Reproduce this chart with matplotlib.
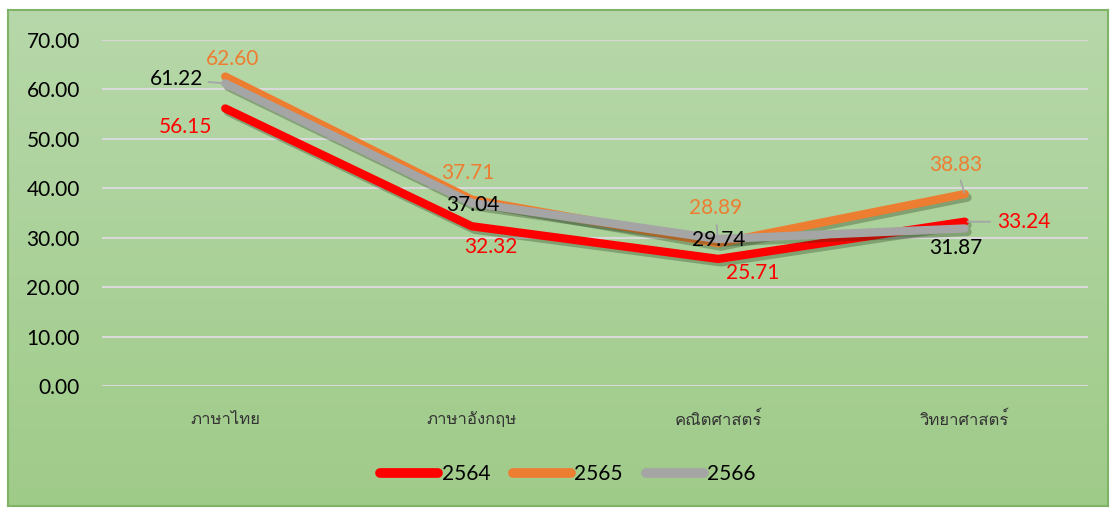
import numpy as np
import matplotlib
matplotlib.use("Agg")
import matplotlib.pyplot as plt
import matplotlib.patheffects as pe
from matplotlib import font_manager
from matplotlib.ft2font import FT2Font

# data
subjects = ["ภาษาไทย", "ภาษาอังกฤษ", "คณิตศาสตร์", "วิทยาศาสตร์"]
years = ["2564", "2565", "2566"]
score_2564 = [56.15, 32.32, 25.71, 33.24]
score_2565 = [62.60, 37.71, 28.89, 38.83]
score_2566 = [61.22, 37.04, 29.74, 31.87]
y_ticks = [0, 10, 20, 30, 40, 50, 60, 70]

# find a font with thai glyphs, if there is one
thai_font = None
for f in font_manager.fontManager.ttflist:
    try:
        if FT2Font(f.fname).get_char_index(ord("ภ")):
            thai_font = f.name
            break
    except Exception:
        pass
families = ["Lato", "DejaVu Sans"]
if thai_font:
    families = ["Lato", thai_font, "DejaVu Sans"]
plt.rcParams["font.family"] = families

fig = plt.figure(figsize=(11.16, 5.08), dpi=100)

# green gradient panel behind the chart
bg = fig.add_axes([8 / 1116, 2 / 508, 1100 / 1116, 496 / 508])
grad = np.linspace(0, 1, 256).reshape(-1, 1)
top = np.array([0.718, 0.847, 0.667])
bot = np.array([0.624, 0.796, 0.537])
img = top + (bot - top) * grad[:, :, None]
bg.imshow(img, aspect="auto", extent=[0, 1, 0, 1])
bg.set_xticks([])
bg.set_yticks([])
for s in bg.spines.values():
    s.set_color("#7fb466")
    s.set_linewidth(1.5)

ax = fig.add_axes([102 / 1116, 1 - 386 / 508, 986 / 1116, 346 / 508])
ax.set_facecolor("none")
x = np.arange(len(subjects))

colors = ["#ff0000", "#ed7d31", "#a5a5a5"]
label_colors = ["#ff0000", "#ed7d31", "#000000"]
series = [score_2564, score_2565, score_2566]
shadow = [pe.SimpleLineShadow(offset=(2, -2.5), shadow_color="#1e3214", alpha=0.3), pe.Normal()]
for i, (vals, c) in enumerate(zip(series, colors)):
    ax.plot(x, vals, color=c, lw=6, solid_capstyle="round", solid_joinstyle="round",
            label=years[i], zorder=3 + i, path_effects=shadow)

# label offsets in pixels (dx, dy) and leader shrink (start, end) in points or None
offsets = [
    [(-40, -19, None), (19, -21, None), (34, -14, None), (59, 0, (3, 2))],
    [(7, 18, None), (-4, 27, None), (-3, 35, (3, 6)), (-9, 29, (2, 1))],
    [(-49, 4, (2, 3)), (1, -2, None), (0, -1, None), (-9, -20, None)],
]
for i, vals in enumerate(series):
    for j, v in enumerate(vals):
        dx, dy, lead = offsets[i][j]
        kw = {}
        if lead:
            kw["arrowprops"] = dict(arrowstyle="-", color="#a5a5a5", lw=1.3,
                                    shrinkA=lead[0], shrinkB=lead[1])
        ax.annotate(f"{v:.2f}", (x[j], v), xytext=(dx, dy), textcoords="offset pixels",
                    ha="center", va="center", fontsize=15, color=label_colors[i],
                    zorder=10, **kw)

ax.set_xlim(-0.5, len(subjects) - 0.5)
ax.set_ylim(0, 70)
ax.set_yticks(y_ticks)
ax.set_yticklabels([f"{t:.2f}" for t in y_ticks], fontsize=15)
ax.set_xticks(x)
ax.set_xticklabels(subjects, fontsize=12, color="#333333")
ax.tick_params(axis="both", length=0)
ax.tick_params(axis="y", pad=16)
ax.tick_params(axis="x", pad=18)
ax.grid(axis="y", color="#d9d9d9", lw=1.5)
ax.set_axisbelow(True)
for s in ax.spines.values():
    s.set_visible(False)

leg = ax.legend(loc="center", bbox_to_anchor=(568 / 1116, 1 - 474 / 508),
                bbox_transform=fig.transFigure, ncol=3, frameon=False,
                fontsize=15, handlelength=2.8, handletextpad=0.15, columnspacing=1.1)
for line in leg.get_lines():
    line.set_linewidth(7)
    line.set_path_effects([])

fig.savefig("out.png", dpi=100)
